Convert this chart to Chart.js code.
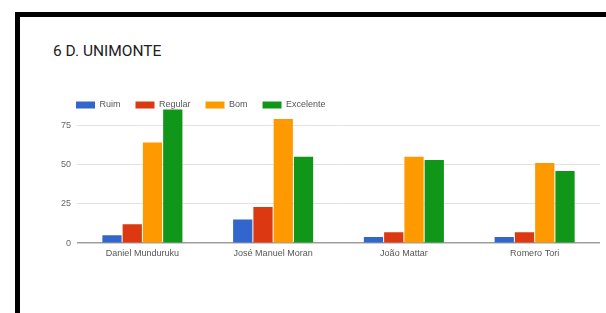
<!DOCTYPE html>
<html>
<head>
<meta charset="utf-8">
<script src="https://cdn.jsdelivr.net/npm/chart.js@4"></script>
<style>
  html, body { margin: 0; padding: 0; background: #fff; }
  body { width: 606px; height: 313px; position: relative; overflow: hidden; }
  #frame { position: absolute; left: 15px; top: 12px; width: 600px; height: 310px;
           border-top: 5px solid #000; border-left: 5px solid #000; }
  #title { position: absolute; left: 53px; top: 44px; font-family: Roboto, "Open Sans", sans-serif;
           font-size: 15.5px; line-height: 1; color: #212121; white-space: nowrap; }
  #wrap { position: absolute; left: 20px; top: 17px; width: 586px; height: 296px; }
</style>
</head>
<body>
<div id="frame"></div>
<div id="title">6 D. UNIMONTE</div>
<div id="wrap"><canvas id="c" width="586" height="296"></canvas></div>
<script>
const categories = ["Daniel Munduruku", "José Manuel Moran", "João Mattar", "Romero Tori"];
const seriesNames = ["Ruim", "Regular", "Bom", "Excelente"];
const ruim      = [5, 15, 4, 4];
const regular   = [12, 23, 7, 7];
const bom       = [64, 79, 55, 51];
const excelente = [85, 55, 53, 46];
const yTicks    = [0, 25, 50, 75];
const colors    = ["#3366cc", "#dc3912", "#ff9900", "#109618"];

const seriesValues = [ruim, regular, bom, excelente];

const legendMover = {
  id: 'legendMover',
  afterLayout(chart) {
    const lg = chart.legend;
    if (!lg) return;
    const dx = 41 - lg.left;
    const dy = 68.5 - lg.top;
    lg.left += dx; lg.top += dy; lg.bottom += dy;
  }
};

new Chart(document.getElementById('c'), {
  type: 'bar',
  data: {
    labels: categories,
    datasets: seriesNames.map((n, i) => ({
      label: n,
      data: seriesValues[i],
      backgroundColor: colors[i],
      borderWidth: 0,
      categoryPercentage: 0.62,
      barPercentage: 0.95
    }))
  },
  options: {
    responsive: false,
    animation: false,
    devicePixelRatio: 1,
    layout: { padding: { top: 57, left: 35, right: 6, bottom: 49 } },
    plugins: {
      title: { display: false },
      tooltip: { enabled: false },
      legend: {
        position: 'top',
        align: 'start',
        labels: {
          boxWidth: 19,
          boxHeight: 7,
          padding: 15,
          color: '#555',
          font: { family: '"Liberation Sans", Arial, sans-serif', size: 9 }
        }
      }
    },
    scales: {
      x: {
        offset: true,
        grid: { display: false, drawTicks: false },
        border: { display: false },
        ticks: {
          color: '#555',
          padding: 5,
          maxRotation: 0,
          font: { family: '"Liberation Sans", Arial, sans-serif', size: 9 }
        }
      },
      y: {
        min: 0,
        max: 86,
        afterBuildTicks(scale) {
          scale.ticks = yTicks.map(v => ({ value: v }));
        },
        grid: {
          drawTicks: false,
          color: (ctx) => (ctx.tick && ctx.tick.value === 0) ? '#9e9e9e' : '#e3e3e3',
          lineWidth: (ctx) => (ctx.tick && ctx.tick.value === 0) ? 1.5 : 1
        },
        border: { display: false },
        ticks: {
          color: '#666',
          padding: 6,
          font: { family: '"Liberation Sans", Arial, sans-serif', size: 9 }
        }
      }
    }
  },
  plugins: [legendMover]
});
</script>
</body>
</html>
